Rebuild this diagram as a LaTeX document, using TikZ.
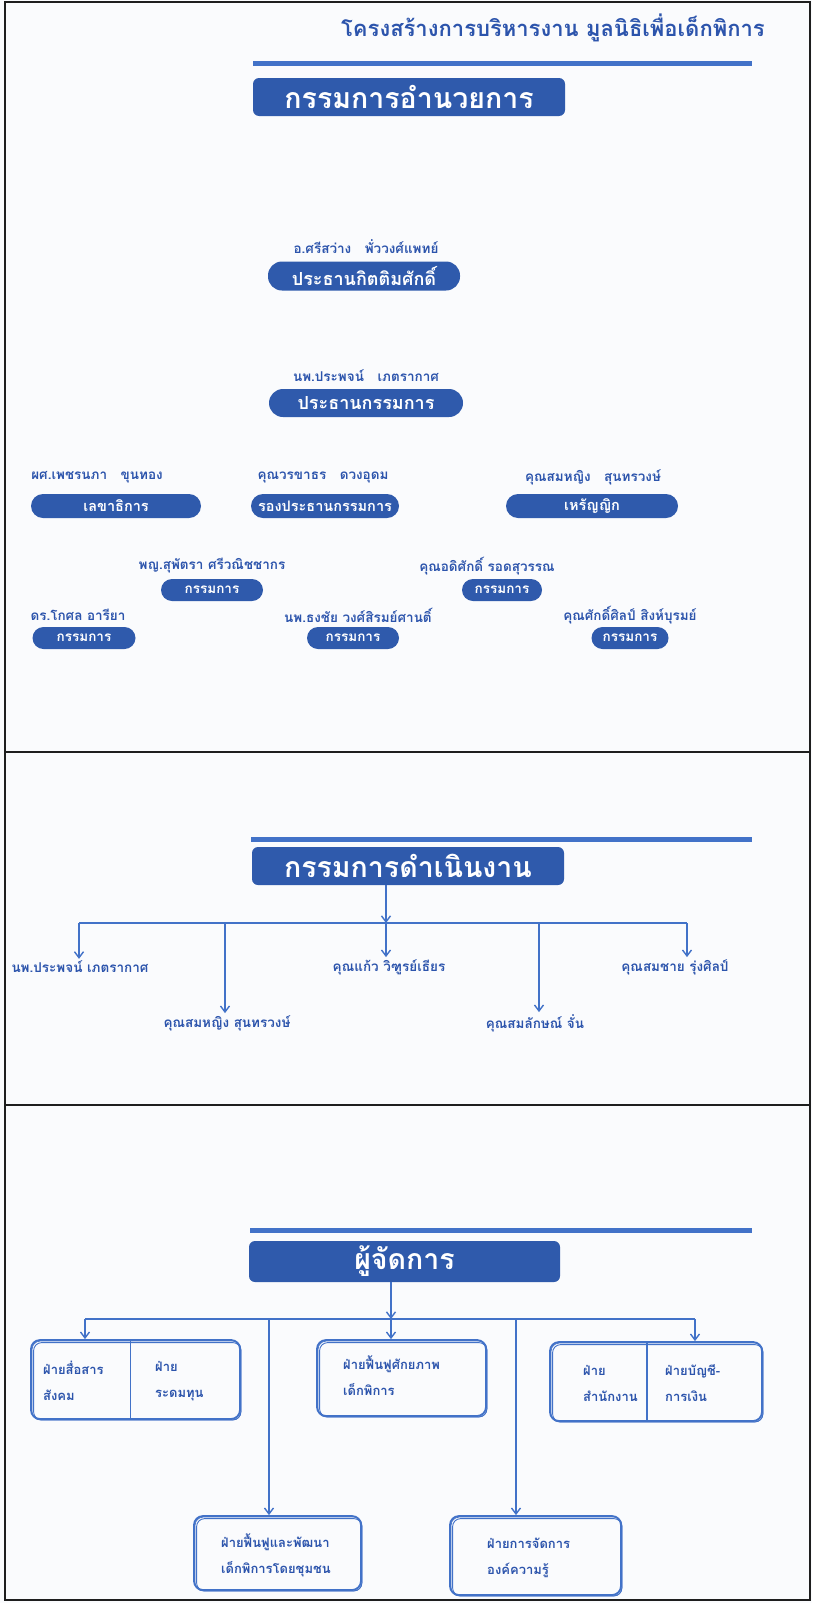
\documentclass[tikz,border=0pt]{standalone}
\usepackage{fontspec}
\newfontfamily\thaifont[Script=Thai]{Loma}
\usetikzlibrary{arrows.meta,calc}

\definecolor{orgfill}{RGB}{47,90,172}
\definecolor{orgline}{RGB}{66,114,200}
\definecolor{orgtext}{RGB}{44,84,172}
\definecolor{paper}{RGB}{250,251,253}
\definecolor{framecol}{RGB}{30,30,30}

\tikzset{
  th/.style={font=\thaifont\bfseries\fontsize{#1}{#1}\selectfont},
  heading/.style={text=orgtext, th=22, inner sep=0pt},
  rulebar/.style={draw=orgline, line width=5pt},
  header/.style={fill=orgfill, rounded corners=6pt, text=white, th=28.5,
    minimum width=312pt, minimum height=38pt, inner sep=0pt},
  person/.style={text=orgtext, th=13.5, inner sep=2pt},
  role/.style={fill=orgfill, text=white, inner sep=0pt, rounded corners=#1},
  link/.style={draw=orgline, line width=1.6pt},
  arr/.style={link, -{Straight Barb[length=6pt,width=9pt,line width=1.4pt]}},
  dept/.style={draw=orgline, line width=1.8pt, rounded corners=9pt, inner sep=0pt},
  deptinner/.style={draw=orgline, line width=0.9pt, rounded corners=8pt},
  depttext/.style={text=orgtext, font=\thaifont\bfseries\fontsize{13}{26}\selectfont,
    align=left, anchor=west, inner sep=0pt},
  framing/.style={draw=framecol, line width=2pt},
}

\begin{document}
\begin{tikzpicture}[x=1pt,y=-1pt]
\useasboundingbox (0,0) rectangle (812,1603);
\fill[paper] (0,0) rectangle (812,1603);

% ---------- board of directors ----------
\node[heading] (title) at (553,28) {โครงสร้างการบริหารงาน มูลนิธิเพื่อเด็กพิการ};
\coordinate (r1a) at (253,64);
\coordinate (r1b) at (752,64);
\draw[rulebar] (r1a) -- (r1b);
\node[header] (hdr1) at (409,97) {กรรมการอำนวยการ};

\node[person] (p1) at (366,247) {อ.ศรีสว่าง\quad พั่ววงศ์แพทย์};
\node[role=14pt, th=18, minimum width=192pt, minimum height=29pt] (c1) at (364,276) {ประธานกิตติมศักดิ์};

\node[person] (p2) at (366,376) {นพ.ประพจน์\quad เภตรากาศ};
\node[role=14pt, th=18, minimum width=194pt, minimum height=28pt] (c2) at (366,403) {ประธานกรรมการ};

\node[person] (p3) at (97,477) {ผศ.เพชรนภา\quad ขุนทอง};
\node[role=12pt, th=14.5, minimum width=170pt, minimum height=24pt] (c3) at (116,506) {เลขาธิการ};
\node[person] (p4) at (323,477) {คุณวรขาธร\quad ดวงอุดม};
\node[role=12pt, th=14.5, minimum width=148pt, minimum height=24pt] (c4) at (325,506) {รองประธานกรรมการ};
\node[person] (p5) at (593,477) {คุณสมหญิง\quad สุนทรวงษ์};
\node[role=12pt, th=14.5, minimum width=172pt, minimum height=24pt] (c5) at (592,506) {เหรัญญิก};

\node[person] (p6) at (212,566) {พญ.สุพัตรา ศรีวณิชชากร};
\node[role=11pt, th=13.5, minimum width=102pt, minimum height=22pt] (c6) at (212,590) {กรรมการ};
\node[person] (p7) at (487,566) {คุณอดิศักดิ์ รอดสุวรรณ};
\node[role=11pt, th=13.5, minimum width=80pt, minimum height=22pt] (c7) at (502,590) {กรรมการ};
\node[person] (p8) at (78,615) {ดร.โกศล อารียา};
\node[role=11pt, th=13.5, minimum width=103pt, minimum height=22pt] (c8) at (84,638) {กรรมการ};
\node[person] (p9) at (358,615) {นพ.ธงชัย วงศ์สิรมย์ศานติ์};
\node[role=11pt, th=13.5, minimum width=92pt, minimum height=22pt] (c9) at (353,638) {กรรมการ};
\node[person] (p10) at (630,615) {คุณศักดิ์ศิลป์ สิงห์บุรมย์};
\node[role=11pt, th=13.5, minimum width=77pt, minimum height=22pt] (c10) at (630,638) {กรรมการ};

% ---------- executive committee ----------
\coordinate (r2a) at (251,839);
\coordinate (r2b) at (752,839);
\draw[rulebar] (r2a) -- (r2b);
\node[header] (hdr2) at (408,866) {กรรมการดำเนินงาน};

\coordinate (j2) at (386,923);
\coordinate (j2a) at (79,923);
\coordinate (j2b) at (225,923);
\coordinate (j2d) at (539,923);
\coordinate (j2e) at (687,923);
\draw[arr] (hdr2.south -| j2) -- (j2);
\draw[link] (j2a) -- (j2e);

\node[person] (m1) at (80,967) {นพ.ประพจน์ เภตรากาศ};
\node[person] (m2) at (227,1023) {คุณสมหญิง สุนทรวงษ์};
\node[person] (m3) at (389,967) {คุณแก้ว วิฑูรย์เธียร};
\node[person] (m4) at (535,1023) {คุณสมลักษณ์ จั่น};
\node[person] (m5) at (675,967) {คุณสมชาย รุ่งศิลป์};

\draw[arr] (j2a) -- (j2a |- m1.north);
\draw[arr] (j2b) -- (j2b |- m2.north);
\draw[arr] (j2)  -- (j2 |- m3.north);
\draw[arr] (j2d) -- (j2d |- m4.north);
\draw[arr] (j2e) -- (j2e |- m5.north);

% ---------- manager and departments ----------
\coordinate (r3a) at (250,1230);
\coordinate (r3b) at (752,1230);
\draw[rulebar] (r3a) -- (r3b);
\node[header, minimum width=311pt, minimum height=41pt] (hdr3) at (404.5,1261.5) {ผู้จัดการ};

\coordinate (j3) at (391,1319);
\coordinate (j3a) at (85,1319);
\coordinate (j3b) at (269,1319);
\coordinate (j3d) at (516,1319);
\coordinate (j3e) at (695,1319);
\draw[arr] (hdr3.south -| j3) -- (j3);
\draw[link] (j3a) -- (j3e);

\node[dept, minimum width=209pt, minimum height=79pt] (B1) at (135.5,1379.5) {};
\node[dept, minimum width=167pt, minimum height=74pt] (B2) at (277.5,1553) {};
\node[dept, minimum width=169pt, minimum height=76pt] (B3) at (401.5,1378) {};
\node[dept, minimum width=171pt, minimum height=79pt] (B4) at (535.5,1555.5) {};
\node[dept, minimum width=212pt, minimum height=79pt] (B5) at (656,1381.5) {};

% embossed inner edges along the top and left of each department box
\foreach \b in {B1,B2,B3,B4,B5}{
  \draw[deptinner] ([xshift=3.5pt,yshift=-3.5pt]\b.north west) rectangle (\b.south east);
  \draw[deptinner, line width=0.7pt] ([xshift=2pt,yshift=-2pt]\b.north west) rectangle (\b.south east);
}

\draw[orgline, line width=1.3pt] ($(B1.north west)!0.475!(B1.north east)$) -- ($(B1.south west)!0.475!(B1.south east)$);
\draw[orgline, line width=1.3pt] ($(B5.north west)!0.458!(B5.north east)$) -- ($(B5.south west)!0.458!(B5.south east)$);

\node[depttext] (t1a) at (43,1381) {ฝ่ายสื่อสาร\\สังคม};
\node[depttext] (t1b) at (155,1381) {ฝ่าย\\ระดมทุน};
\node[depttext] (t2) at (221,1555) {ฝ่ายฟื้นฟูและพัฒนา\\เด็กพิการโดยชุมชน};
\node[depttext] (t3) at (343,1376) {ฝ่ายฟื้นฟูศักยภาพ\\เด็กพิการ};
\node[depttext] (t4) at (487,1558) {ฝ่ายการจัดการ\\องค์ความรู้};
\node[depttext] (t5a) at (583,1383) {ฝ่าย\\สำนักงาน};
\node[depttext] (t5b) at (665,1383) {ฝ่ายบัญชี-\\การเงิน};

\draw[arr] (j3a) -- (j3a |- B1.north);
\draw[arr] (j3b) -- (j3b |- B2.north);
\draw[arr] (j3)  -- (j3 |- B3.north);
\draw[arr] (j3d) -- (j3d |- B4.north);
\draw[arr] (j3e) -- (j3e |- B5.north);

% ---------- page frame ----------
\coordinate (fa) at (5,2);
\coordinate (fb) at (810,1600);
\draw[framing] (fa) rectangle (fb);
\draw[framing] (5,752) -- (810,752);
\draw[framing] (5,1105) -- (810,1105);
\end{tikzpicture}
\end{document}
